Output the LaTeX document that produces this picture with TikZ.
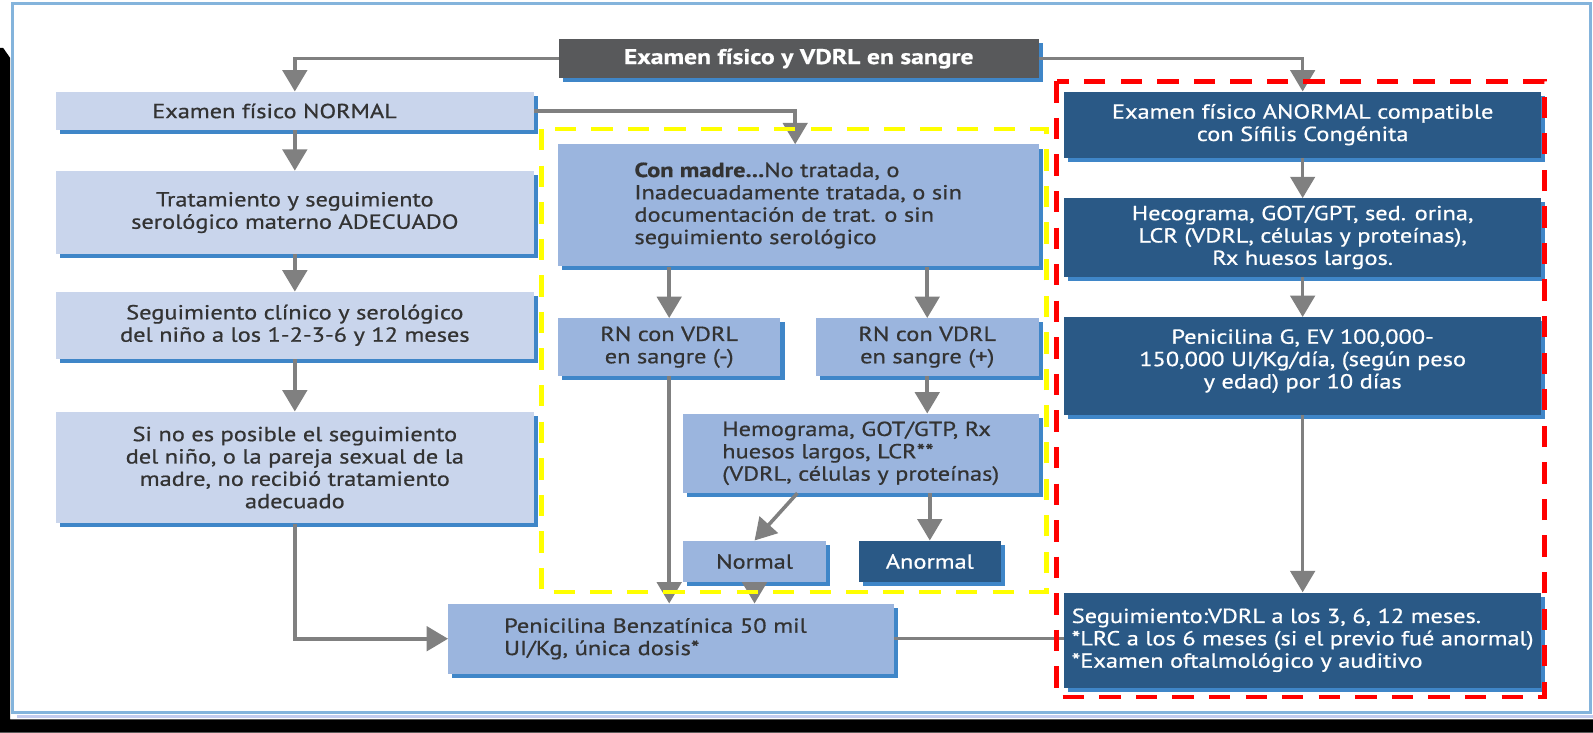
\documentclass[tikz,border=0pt]{standalone}
\usepackage{fontspec}
\setmainfont{PT Sans}[FakeStretch=1.2, FakeBold=0.7]
\usetikzlibrary{arrows.meta,shadows,calc}
\definecolor{lav}{HTML}{C9D5EC}
\definecolor{mid}{HTML}{9BB5DE}
\definecolor{darkb}{HTML}{2A5986}
\definecolor{topgray}{HTML}{58595B}
\definecolor{shad}{HTML}{3F86C8}
\definecolor{txt}{HTML}{333333}
\definecolor{conncol}{HTML}{808080}
\definecolor{framecol}{HTML}{84B4DC}
\definecolor{framesh}{HTML}{C2CBEE}
\definecolor{ylw}{HTML}{FFFF00}
\definecolor{rd}{HTML}{FF0000}
\begin{document}
\begin{tikzpicture}[x=1pt,y=-1pt,
  box/.style={general shadow={fill=shad, shadow xshift=4pt, shadow yshift=-4pt},
    inner sep=0pt, font=\fontsize{20}{22}\selectfont, align=center, anchor=north west},
  lbox/.style={box, fill=lav, text=txt},
  mbox/.style={box, fill=mid, text=txt},
  dbox/.style={box, fill=darkb, text=white},
  gbox/.style={box, fill=topgray, text=white, font=\fontsize{21}{24}\selectfont},
  conn/.style={draw=conncol, line width=3.5pt, -{Triangle[width=24pt,length=21pt]}},
  plain/.style={draw=conncol, line width=3pt},
  ydash/.style={draw=ylw, line width=4.3pt, dash pattern=on 21pt off 15pt},
  rdash/.style={draw=rd, line width=4.5pt, dash pattern=on 21pt off 15pt}]
\useasboundingbox (0,0) rectangle (1568,721);
\fill[white] (0,0) rectangle (1568,721);
% black outer shadow
\fill[black] (0,47) -- (3,47) -- (10,57) -- (10,708) -- (1568,708) -- (1568,721) -- (0,721) -- cycle;
\draw[framesh, line width=3pt] (17,705.5) -- (1568,705.5);
\draw[framecol, line width=3pt] (12.5,3.5) rectangle (1565.5,701.5);

% nodes
\node[gbox, minimum width=472pt, minimum height=39pt] (top) at (550,38) {\textbf{Examen físico y VDRL en sangre}};

\node[lbox, minimum width=470pt, minimum height=38pt] (normal) at (55,90) {Examen físico NORMAL\hspace*{40pt}};
\node[lbox, minimum width=470pt, minimum height=82pt] (trat) at (55,168) {Tratamiento y seguimiento\\serológico materno ADECUADO};
\node[lbox, minimum width=470pt, minimum height=66pt] (seg) at (55,287) {Seguimiento clínico y serológico\\del niño a los 1-2-3-6 y 12 meses};
\node[lbox, minimum width=470pt, minimum height=110pt] (sino) at (55,405) {Si no es posible el seguimiento\\del niño, o la pareja sexual de la\\madre, no recibió tratamiento\\adecuado};

\node[mbox, minimum width=473pt, minimum height=120pt, align=left] (madre) at (549,142) {\textbf{Con madre...}No tratada, o\\Inadecuadamente tratada, o sin\\documentación de trat. o sin\\seguimiento serológico};
\node[mbox, minimum width=219pt, minimum height=57pt] (rnneg) at (549,313) {RN con VDRL\\en sangre (-)};
\node[mbox, minimum width=219pt, minimum height=57pt] (rnpos) at (803,313) {RN con VDRL\\en sangre (+)};
\node[mbox, minimum width=350pt, minimum height=78pt, align=left] (hemo) at (672,407) {Hemograma, GOT/GTP, Rx\\huesos largos, LCR**\\(VDRL, células y proteínas)};
\node[mbox, minimum width=141pt, minimum height=41pt] (nor) at (672,532) {Normal};
\node[dbox, minimum width=140pt, minimum height=41pt] (anor) at (845,532) {Anormal};
\node[mbox, minimum height=69pt, text width=329pt, inner xsep=55pt, align=left] (penb) at (441,594) {Penicilina Benzatínica 50 mil\\UI/Kg, única dosis*};

\node[dbox, minimum width=470pt, minimum height=65pt] (exan) at (1047,90) {Examen físico ANORMAL compatible\\con Sífilis Congénita};
\node[dbox, minimum width=470pt, minimum height=77pt] (heco) at (1047,195) {Hecograma, GOT/GPT, sed. orina,\\LCR (VDRL, células y proteínas),\\Rx huesos largos.};
\node[dbox, minimum width=470pt, minimum height=96pt] (peng) at (1047,312) {Penicilina G, EV 100,000-\\150,000 UI/Kg/día, (según peso\\y edad) por 10 días\\[-8pt]};
\node[dbox, minimum width=470pt, minimum height=94pt, align=left] (segu) at (1047,583) {Seguimiento:VDRL a los 3, 6, 12 meses.\\{}*LRC a los 6 meses (si el previo fué anormal)\\{}*Examen oftalmológico y auditivo};

% connectors
\draw[conn] (top.west) -| (normal.north);
\draw[conn] (top.east) -| (exan.north);
\draw[conn] (normal.south) -- (trat.north);
\draw[conn] (trat.south) -- (seg.north);
\draw[conn] (seg.south) -- (sino.north);
\draw[conn] (sino.south) |- (penb.west);
\draw[conn] (normal.east) -| ([xshift=-3pt]madre.north);
\draw[conn] (madre.south -| rnneg.north) -- (rnneg.north);
\draw[conn] (madre.south -| rnpos.north) -- (rnpos.north);
\draw[conn] (rnpos.south) -- (rnpos.south |- hemo.north);
\draw[conn] (rnneg.south) -- (rnneg.south |- penb.north);
\draw[conn] ($(hemo.south west)!0.322!(hemo.south east)$) -- (nor.north);
\draw[conn] (hemo.south -| anor.north) -- (anor.north);
\draw[conn] (nor.south) -- (nor.south |- penb.north);
\draw[plain] (penb.east) -- (penb.east -| segu.west);
\draw[conn] (exan.south) -- (heco.north);
\draw[conn] (heco.south) -- (peng.north);
\draw[conn] (peng.south) -- (segu.north);

% dashed groups
\draw[ydash] (533,127) rectangle (1030,583);
\draw[rdash] (1040,80) rectangle (1520,686);
\end{tikzpicture}
\end{document}
